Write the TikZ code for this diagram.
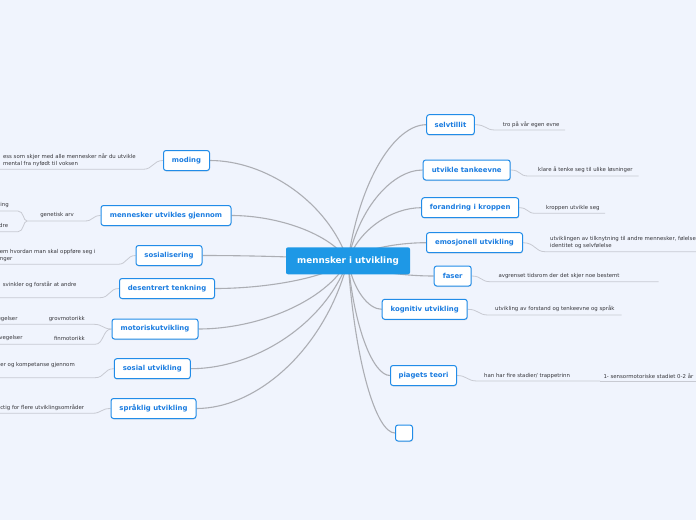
\documentclass[tikz,border=0pt]{standalone}
\usepackage{fontspec}
\setmainfont{DejaVu Sans}
\usetikzlibrary{shadows}
\definecolor{bg}{RGB}{240,244,253}
\definecolor{topicblue}{RGB}{26,124,224}
\definecolor{bordblue}{RGB}{33,140,232}
\definecolor{centerblue}{RGB}{30,152,230}
\definecolor{conn}{RGB}{172,174,180}
\definecolor{leafline}{RGB}{200,202,210}
\definecolor{leaftext}{RGB}{55,55,60}
\pgfdeclarelayer{back}
\pgfdeclarelayer{conn}
\pgfsetlayers{back,conn,main}
\tikzset{
 topic/.style={draw=bordblue, line width=1pt, fill=white, rounded corners=2.5pt, text=topicblue,
   font=\fontsize{6.9}{8}\selectfont\bfseries, minimum height=20pt, inner sep=0pt,
   drop shadow={shadow xshift=0.4pt, shadow yshift=-1pt, opacity=0.18}},
 centre/.style={fill=centerblue, rounded corners=2pt, text=white,
   font=\fontsize{8.8}{10}\selectfont\bfseries, minimum width=124pt, minimum height=27pt, inner sep=0pt},
 leaf/.style={text=leaftext, font=\fontsize{5.4}{6.6}\selectfont, inner sep=0pt, align=left},
 mainconn/.style={draw=conn, line width=1.1pt},
 leafconn/.style={draw=leafline, line width=0.8pt},
}
\begin{document}
\begin{tikzpicture}[x=1pt,y=-1pt]
\begin{pgfonlayer}{back}
\fill[bg] (0,0) rectangle (696,520);
\end{pgfonlayer}
\useasboundingbox (0,0) rectangle (696,520);
\clip (0,0) rectangle (696,520);

% centre
\node[centre] (c) at (348,260.8) {mennsker i utvikling};

% left topics
\node[topic, minimum width=46pt]  (moding) at (186.5,160.5) {moding};
\node[topic, minimum width=130pt] (gjennom) at (166,215.5) {mennesker utvikles gjennom};
\node[topic, minimum width=66pt]  (sosialisering) at (169,255.5) {sosialisering};
\node[topic, minimum width=95pt]  (desentrert) at (167,288.5) {desentrert tenkning};
\node[topic, minimum width=86pt]  (motorisk) at (155,329) {motoriskutvikling};
\node[topic, minimum width=76pt]  (sosialutv) at (152.3,368.7) {sosial utvikling};
\node[topic, minimum width=85pt]  (spraklig) at (153.5,408.5) {språklig utvikling};

% right topics
\node[topic, minimum width=47.6pt] (selvtillit) at (450.5,124.7) {selvtillit};
\node[topic, minimum width=87pt]   (tankeevne) at (466.7,170) {utvikle tankeevne};
\node[topic, minimum width=97pt]   (forandring) at (470.2,207.7) {forandring i kroppen};
\node[topic, minimum width=96pt]   (emosjonell) at (474.5,242.7) {emosjonell utvikling};
\node[topic, minimum width=37pt]   (faser) at (452.7,276) {faser};
\node[topic, minimum width=85pt]   (kognitiv) at (424.7,309.3) {kognitiv utvikling};
\node[topic, minimum width=66pt]   (piagets) at (423.5,375.5) {piagets teori};
\node[topic, minimum width=17pt, minimum height=16pt] (tom) at (404,433) {};

% right leaves
\node[leaf, anchor=west] (l8) at (502.7,125) {tro på vår egen evne};
\node[leaf, anchor=west] (l9) at (538,170) {klare å tenke seg til ulike løsninger};
\node[leaf, anchor=west] (l10) at (546,208.3) {kroppen utvikle seg};
\node[leaf, anchor=west] (l11) at (550,242.8) {utviklingen av tilknytning til andre mennesker, følelser,\\identitet og selvfølelse};
\node[leaf, anchor=west] (l12) at (498.3,275.7) {avgrenset tidsrom der det skjer noe bestemt};
\node[leaf, anchor=west] (l13) at (495,309) {utvikling av forstand og tenkeevne og språk};
\node[leaf, anchor=west] (l14) at (484,376) {han har fire stadier/ trappetrinn};
\node[leaf, anchor=west] (l15) at (603.3,376) {1- sensormotoriske stadiet 0-2 år};

% left leaves
\node[leaf, anchor=east] (l1) at (136,160) {ess som skjer med alle mennesker når du utvikle\\mental fra nyfødt til voksen};
\node[leaf, anchor=east] (l2) at (74,215) {genetisk arv};
\node[leaf, anchor=east] (l2a) at (9,205) {ing};
\node[leaf, anchor=east] (l2b) at (8.3,225) {dre};
\node[leaf, anchor=east] (l3) at (95.7,255.3) {em hvordan man skal oppføre seg i\\nger};
\node[leaf, anchor=east] (l4) at (76.7,285) {svinkler og forstår at andre};
\node[leaf, anchor=east] (l5) at (85,319.3) {grovmotorikk};
\node[leaf, anchor=east] (l5a) at (17.7,319.3) {vegelser};
\node[leaf, anchor=east] (l6) at (85,338.3) {finmotorikk};
\node[leaf, anchor=east] (l6a) at (22.7,338.3) {vegelser};
\node[leaf, anchor=east] (l7) at (75,365) {er og kompetanse gjennom};
\node[leaf, anchor=east] (l7b) at (84.3,407.3) {ctig for flere utviklingsområder};

% leaf line coordinates
\coordinate (u8a) at (495,130);   \coordinate (u8b) at (565,130);
\coordinate (u9a) at (528,176);   \coordinate (u9b) at (638.7,176);
\coordinate (u10a) at (535,213.3); \coordinate (u10b) at (605,213.3);
\coordinate (u11a) at (545,251.7); \coordinate (u11b) at (696,251.7);
\coordinate (u12a) at (490,281.7); \coordinate (u12b) at (658.7,281.7);
\coordinate (u13a) at (488,315);  \coordinate (u13b) at (621.7,315);
\coordinate (u14a) at (477,381);  \coordinate (u14b) at (600,381); \coordinate (u14c) at (696,381);
\coordinate (u1a) at (143,169.3); \coordinate (u1b) at (0,169.3);
\coordinate (u2a) at (85,221);    \coordinate (u2b) at (27,221);
\coordinate (u2c) at (18,211);    \coordinate (u2d) at (0,211);
\coordinate (u2e) at (18,231.7);  \coordinate (u2f) at (0,231.7);
\coordinate (u3a) at (118,264.3); \coordinate (u3b) at (0,264.3);
\coordinate (u4a) at (100,297.7); \coordinate (u4b) at (0,297.7);
\coordinate (u5a) at (94,324.3);  \coordinate (u5b) at (0,324.3);
\coordinate (u6a) at (95,344.3);  \coordinate (u6b) at (0,344.3);
\coordinate (u7a) at (95,377.7);  \coordinate (u7b) at (0,377.7);
\coordinate (u7c) at (92,413.3);  \coordinate (u7d) at (0,413.3);

\begin{pgfonlayer}{conn}
% main connectors
\draw[mainconn] (c.center) .. controls (327.2,200.7) and (264.9,160.5) .. (moding.east);
\draw[mainconn] (c.center) .. controls (330.5,233.7) and (277.8,215.5) .. (gjennom.east);
\draw[mainconn] (c.center) .. controls (326.1,257.7) and (260.4,255.5) .. (sosialisering.east);
\draw[mainconn] (c.center) .. controls (328,277.5) and (267.9,288.5) .. (desentrert.east);
\draw[mainconn] (c.center) .. controls (325.5,301.8) and (258,329) .. (motorisk.east);
\draw[mainconn] (c.center) .. controls (324.3,325.6) and (253.4,368.7) .. (sosialutv.east);
\draw[mainconn] (c.center) .. controls (325.2,349.5) and (256.8,408.5) .. (spraklig.east);
\draw[mainconn] (c.center) .. controls (359.8,179.2) and (395.2,124.7) .. (selvtillit.west);
\draw[mainconn] (c.center) .. controls (359.3,206.4) and (393.1,170) .. (tankeevne.west);
\draw[mainconn] (c.center) .. controls (359.1,229) and (392.2,207.7) .. (forandring.west);
\draw[mainconn] (c.center) .. controls (359.8,250) and (395.1,242.7) .. (emosjonell.west);
\draw[mainconn] (c.center) .. controls (360.9,270) and (399.7,276) .. (faser.west);
\draw[mainconn] (c.center) .. controls (353.1,290) and (368.5,309.3) .. (kognitiv.west);
\draw[mainconn] (c.center) .. controls (354.4,329.7) and (373.5,375.5) .. (piagets.west);
\draw[mainconn] (c.center) .. controls (355.1,364.2) and (376.5,433) .. (tom.west);

% leaf connectors right
\draw[leafconn] (selvtillit.east) .. controls +(12,0) and +(-10,0) .. (u8a) -- (u8b);
\draw[leafconn] (tankeevne.east) .. controls +(10,0) and +(-9,0) .. (u9a) -- (u9b);
\draw[leafconn] (forandring.east) .. controls +(9,0) and +(-8,0) .. (u10a) -- (u10b);
\draw[leafconn] (emosjonell.east) .. controls +(12,0) and +(-10,0) .. (u11a) -- (u11b);
\draw[leafconn] (faser.east) .. controls +(10,0) and +(-9,0) .. (u12a) -- (u12b);
\draw[leafconn] (kognitiv.east) .. controls +(11,0) and +(-10,0) .. (u13a) -- (u13b);
\draw[leafconn] (piagets.east) .. controls +(10,0) and +(-10,0) .. (u14a) -- (u14b);
\draw[leafconn] (u14b) -- (u14c);

% leaf connectors left
\draw[leafconn] (moding.west) .. controls +(-10,0) and +(10,0) .. (u1a) -- (u1b);
\draw[leafconn] (gjennom.west) .. controls +(-8,0) and +(8,0) .. (u2a) -- (u2b);
\draw[leafconn] (u2b) .. controls (23,221) and (24,211) .. (u2c) -- (u2d);
\draw[leafconn] (u2b) .. controls (23,221) and (24,231.7) .. (u2e) -- (u2f);
\draw[leafconn] (sosialisering.west) .. controls +(-9,0) and +(9,0) .. (u3a) -- (u3b);
\draw[leafconn] (desentrert.west) .. controls +(-10,0) and +(10,0) .. (u4a) -- (u4b);
\draw[leafconn] (motorisk.west) .. controls +(-9,0) and +(9,0) .. (u5a) -- (u5b);
\draw[leafconn] (motorisk.west) .. controls +(-9,0) and +(9,0) .. (u6a) -- (u6b);
\draw[leafconn] (sosialutv.west) .. controls +(-10,0) and +(10,0) .. (u7a) -- (u7b);
\draw[leafconn] (spraklig.west) .. controls +(-10,0) and +(10,0) .. (u7c) -- (u7d);
\end{pgfonlayer}
\end{tikzpicture}
\end{document}
